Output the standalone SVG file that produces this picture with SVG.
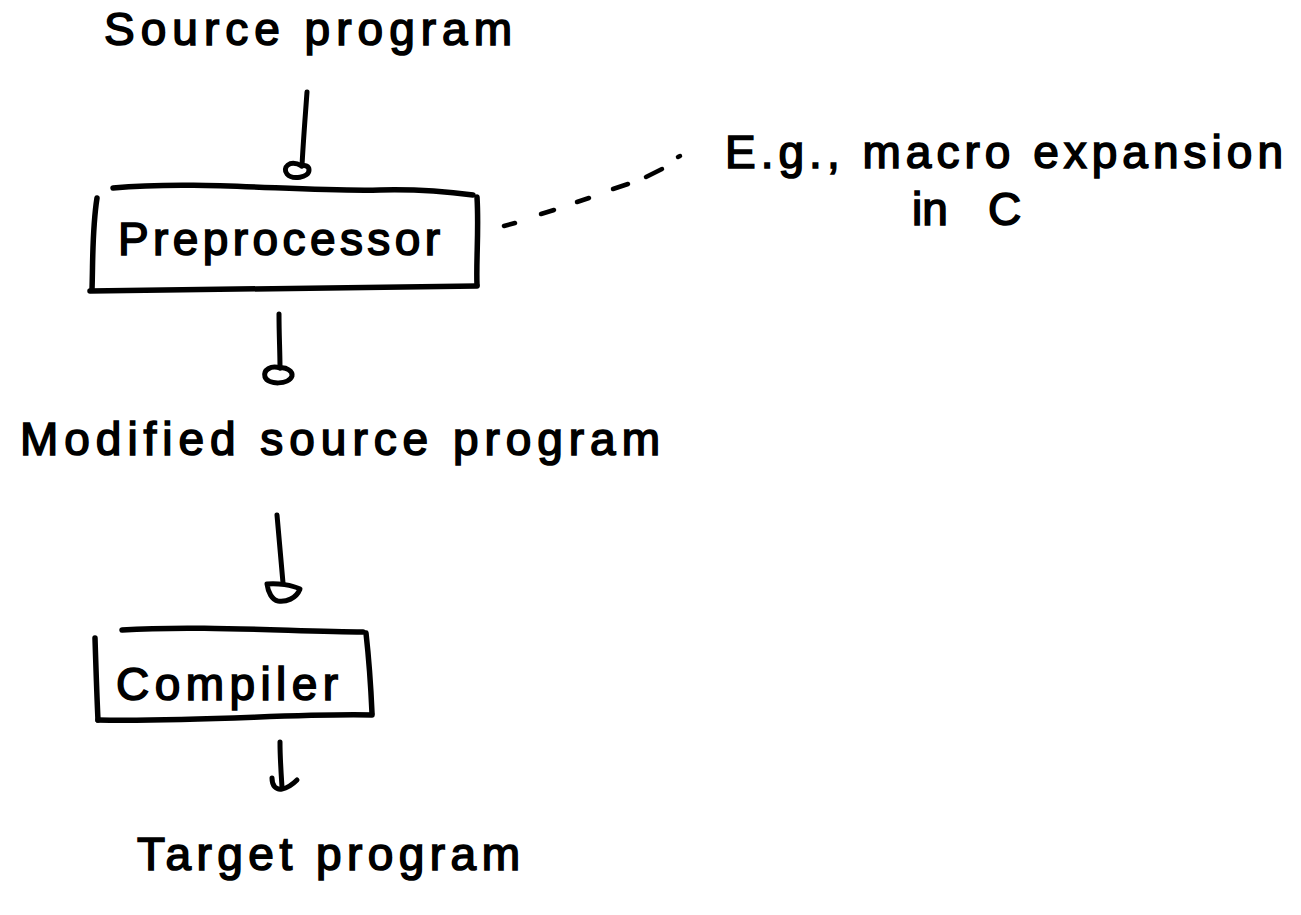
<svg xmlns="http://www.w3.org/2000/svg" width="1301" height="915" viewBox="0 0 1301 915">
  <style>
    .ink { fill: none; stroke: #000; stroke-width: 5; stroke-linecap: round; stroke-linejoin: round; }
    .box { fill: none; stroke: #000; stroke-width: 5.5; stroke-linecap: round; stroke-linejoin: round; }
    .dash { fill: none; stroke: #000; stroke-width: 4.5; stroke-linecap: round; }
    .lbl { font-family: "Liberation Sans", "DejaVu Sans", sans-serif; font-size: 46px; fill: #000; stroke: #000; stroke-width: 1.6; }
  </style>
  <rect width="1301" height="915" fill="#fff"/>

  <g id="source-program">
    <text class="lbl" x="104" y="45" textLength="408" lengthAdjust="spacing">Source program</text>
  </g>

  <g id="preprocessor">
    <path class="box" d="M113 188 C200 180 300 192 380 190 C420 189 450 192 473 195"/>
    <path class="box" d="M477 197 C479 230 476 260 477 285"/>
    <path class="box" d="M90 291 C200 290 320 287 477 286"/>
    <path class="box" d="M97 198 C92 230 93 260 92 290"/>
    <text class="lbl" x="118" y="255" textLength="322" lengthAdjust="spacing">Preprocessor</text>
  </g>

  <g id="note">
    <text class="lbl" x="725" y="168" textLength="558" lengthAdjust="spacing">E.g., macro expansion</text>
    <text class="lbl" x="912" y="225"><tspan>in </tspan><tspan x="988">C</tspan></text>
  </g>

  <g id="modified-source-program">
    <text class="lbl" x="20" y="455" textLength="640" lengthAdjust="spacing">Modified source program</text>
  </g>

  <g id="compiler">
    <path class="box" d="M122 630 C200 625 300 632 363 632"/>
    <path class="box" d="M366 633 C369 660 371 690 372 713"/>
    <path class="box" d="M98 720 C200 722 300 713 372 715"/>
    <path class="box" d="M95 638 C96 670 97 700 98 720"/>
    <text class="lbl" x="116" y="700" textLength="222" lengthAdjust="spacing">Compiler</text>
  </g>

  <g id="target-program">
    <text class="lbl" x="137" y="870" textLength="383" lengthAdjust="spacing">Target program</text>
  </g>

  <g id="connectors">
    <!-- source program to preprocessor -->
    <path class="ink" d="M307 92 C305 120 303 145 302 166"/>
    <path class="ink" d="M302 166 C289 159 282 168 287 174 C292 180 309 178 309 170 C309 166 305 165 302 166"/>
    <!-- preprocessor to modified source -->
    <path class="ink" d="M279 314 C279 335 280 352 280 368"/>
    <path class="ink" d="M280 368 C271 365 263 370 265 377 C268 385 289 385 292 376 C293 371 286 367 280 368"/>
    <!-- modified source to compiler -->
    <path class="ink" d="M277 515 C279 540 281 562 283 583"/>
    <path class="ink" d="M267 584 C278 583 292 585 300 589 C296 599 286 602 278 601 C272 600 268 592 267 584 Z"/>
    <!-- compiler to target program -->
    <path class="ink" d="M280 742 C280 758 281 772 282 787"/>
    <path class="ink" d="M272 778 C272 786 276 790 282 789 C288 788 293 784 297 780"/>
    <!-- dashed leader from preprocessor to note -->
    <path class="dash" d="M504 226 L515 223"/>
    <path class="dash" d="M541 214 L554 210"/>
    <path class="dash" d="M577 202 L589 198"/>
    <path class="dash" d="M613 189 L628 184"/>
    <path class="dash" d="M646 177 L662 169"/>
    <path class="dash" d="M678 157 L680 156"/>
  </g>
</svg>
